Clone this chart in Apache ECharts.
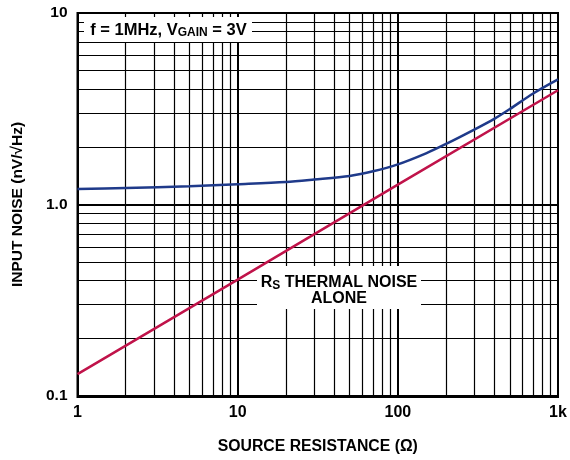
<!DOCTYPE html>
<html>
<head>
<meta charset="utf-8">
<script src="https://cdn.jsdelivr.net/npm/echarts@6/dist/echarts.min.js"></script>
<style>html,body{margin:0;padding:0;background:#fff}#c{width:570px;height:460px}</style>
</head>
<body>
<div id="c"></div>
<script>
// Data
const resistance = [1, 2, 5, 10, 20, 30, 50, 70, 100, 150, 200, 300, 400, 500, 700, 1000];
const totalNoise = [1.205, 1.22, 1.245, 1.275, 1.31, 1.35, 1.41, 1.49, 1.62, 1.85, 2.07, 2.46, 2.8, 3.15, 3.8, 4.5];
const thermalR = [1, 10, 100, 1000];
const thermalNoise = [0.13, 0.405, 1.27, 3.95];
const xMinorGrid = [2,3,4,5,6,7,8,9,20,30,40,50,60,70,80,90,200,300,400,500,600,700,800,900];
const yMinorGrid = [0.2,0.3,0.4,0.5,0.6,0.7,0.8,0.9,2,3,4,5,6,7,8,9];
const xMajorGrid = [10, 100];
const yMajorGrid = [1];
const xTickLabels = {1: '1', 10: '10', 100: '100', 1000: '1k'};
const yTickLabels = {0.1: '0.1', 1: '1.0', 10: '10'};

const chart = echarts.init(document.getElementById('c'));
const font = 'Liberation Sans, Arial, sans-serif';

const gridLines = [];
xMinorGrid.forEach(v => gridLines.push({xAxis: v, lineStyle: {width: 1.2}}));
yMinorGrid.forEach(v => gridLines.push({yAxis: v, lineStyle: {width: 1.2}}));
xMajorGrid.forEach(v => gridLines.push({xAxis: v, lineStyle: {width: 2}}));
yMajorGrid.forEach(v => gridLines.push({yAxis: v, lineStyle: {width: 2}}));

chart.setOption({
  animation: false,
  grid: {left: 77.5, right: 12, top: 13, bottom: 63},
  xAxis: {
    type: 'log', logBase: 10, min: 1, max: 1000,
    name: 'SOURCE RESISTANCE (\u03A9)', nameLocation: 'middle', nameGap: 43,
    nameTextStyle: {fontFamily: font, fontWeight: 'bold', fontSize: 15.8, color: '#000'},
    axisLine: {show: false}, axisTick: {show: false},
    axisLabel: {fontFamily: font, fontWeight: 'bold', fontSize: 16, color: '#000', margin: 9,
      formatter: v => xTickLabels[Math.round(v)] || ''},
    splitLine: {show: true, lineStyle: {color: '#000', width: 2}}
  },
  yAxis: {
    type: 'log', logBase: 10, min: 0.1, max: 10,
    name: 'INPUT NOISE (nV/\u221AHz)', nameLocation: 'middle', nameGap: 52,
    nameTextStyle: {fontFamily: font, fontWeight: 'bold', fontSize: 15.5, color: '#000'},
    axisLine: {show: false}, axisTick: {show: false},
    axisLabel: {fontFamily: font, fontWeight: 'bold', fontSize: 15.5, color: '#000', margin: 10,
      formatter: v => { const k = Object.keys(yTickLabels).find(x => Math.abs(x - v) < 1e-6 * v); return k ? yTickLabels[k] : ''; }},
    splitLine: {show: true, lineStyle: {color: '#000', width: 2}}
  },
  graphic: [
    {type: 'rect', z: 5, shape: {x: 77.5, y: 13, width: 480.5, height: 384}, style: {fill: 'none', stroke: '#000', lineWidth: 2}},
    {type: 'rect', z: 6, shape: {x: 84, y: 17, width: 168, height: 25}, style: {fill: '#fff'}},
    {type: 'text', z: 7, x: 168.5, y: 20.5,
      style: {text: '{a|f = 1MHz, V}{s|GAIN}{a| = 3V}', align: 'center', verticalAlign: 'top', rich: {
        a: {fontFamily: font, fontWeight: 'bold', fontSize: 16.5, fill: '#000', lineHeight: 19},
        s: {fontFamily: font, fontWeight: 'bold', fontSize: 12, fill: '#000', padding: [6, 0, 0, 0], lineHeight: 19}
      }}},
    {type: 'rect', z: 6, shape: {x: 257, y: 266, width: 164, height: 43}, style: {fill: '#fff'}},
    {type: 'text', z: 7, x: 339, y: 274.5,
      style: {text: '{a|R}{s|S}{a| THERMAL NOISE}\n{a|ALONE}', align: 'center', verticalAlign: 'top', rich: {
        a: {fontFamily: font, fontWeight: 'bold', fontSize: 16, fill: '#000', lineHeight: 16},
        s: {fontFamily: font, fontWeight: 'bold', fontSize: 12, fill: '#000', padding: [6, 0, 0, 0], lineHeight: 16}
      }}}
  ],
  series: [
    {
      type: 'line', z: 1, data: [], silent: true,
      markLine: {silent: true, symbol: 'none', label: {show: false}, animation: false,
        lineStyle: {color: '#000', type: 'solid', width: 1.2}, emphasis: {disabled: true}, data: gridLines}
    },
    {
      name: 'Total', type: 'line', z: 10, smooth: 0.3, showSymbol: false, symbol: 'none',
      lineStyle: {color: '#1f3a8a', width: 2.5},
      data: resistance.map((r, i) => [r, totalNoise[i]])
    },
    {
      name: 'Thermal', type: 'line', z: 10, showSymbol: false, symbol: 'none',
      lineStyle: {color: '#c0134a', width: 2.5},
      data: thermalR.map((r, i) => [r, thermalNoise[i]])
    }
  ]
});
</script>
</body>
</html>
